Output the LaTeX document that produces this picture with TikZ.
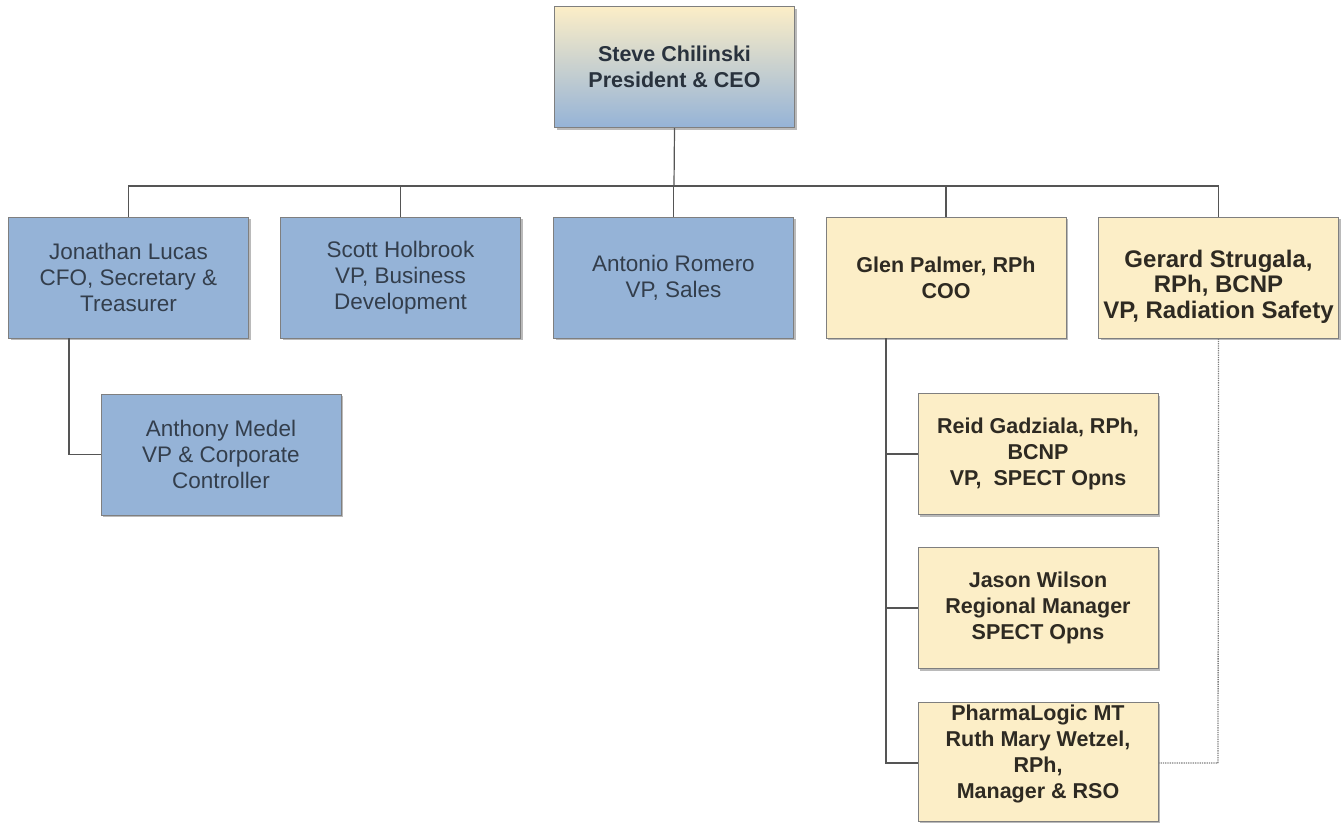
\documentclass[tikz,border=0pt]{standalone}
\usepackage{fontspec}
\setmainfont{Liberation Sans}
\usetikzlibrary{shadows}
\definecolor{boxblue}{HTML}{95B3D7}
\definecolor{boxcream}{HTML}{FCEEC7}
\definecolor{ceomid}{HTML}{D6D9D6}
\definecolor{edgegray}{HTML}{7F7F7F}
\definecolor{txtblue}{HTML}{333E4C}
\definecolor{txtcream}{HTML}{2E2A22}
\definecolor{linegray}{HTML}{555555}
\newcommand{\movedtext}[2]{\raisebox{#1}[\height][\depth]{\begin{tabular}{@{}c@{}}#2\end{tabular}}}
\tikzset{
  orgbox/.style={draw=edgegray, line width=1pt, minimum width=240pt, minimum height=121pt,
    align=center, inner sep=2pt, font=\fontsize{22.5}{26}\selectfont,
    drop shadow={shadow xshift=2pt, shadow yshift=-2pt, fill=black!45, opacity=0.6}},
  bluebox/.style={orgbox, fill=boxblue, text=txtblue},
  creambox/.style={orgbox, fill=boxcream, text=txtcream, font=\fontsize{21.5}{26}\selectfont\bfseries},
  bigcream/.style={creambox, font=\fontsize{24}{25.5}\selectfont\bfseries},
  ceobox/.style={orgbox, top color=boxcream, middle color=ceomid, bottom color=boxblue, text=txtblue!80!black, font=\fontsize{21.5}{26}\selectfont\bfseries},
  conn/.style={draw=linegray, line width=1.2pt},
  dotconn/.style={draw=edgegray, line width=1.3pt, densely dotted},
}
\begin{document}
\begin{tikzpicture}[x=1pt,y=-1pt]
\useasboundingbox (0,0) rectangle (1343,822);
\node[ceobox] (ceo) at (674.5,67) {Steve Chilinski\\President \& CEO};
\node[bluebox] (jl) at (128.5,277.5) {Jonathan Lucas\\CFO, Secretary \&\\Treasurer};
\node[bluebox] (sh) at (400.5,277.5) {Scott Holbrook\\VP, Business\\Development};
\node[bluebox] (ar) at (673.5,277.5) {Antonio Romero\\VP, Sales};
\node[creambox] (gp) at (946,277.5) {Glen Palmer, RPh\\COO};
\node[bigcream] (gs) at (1218.5,277.5) {\movedtext{-10pt}{Gerard Strugala,\\RPh, BCNP\\VP, Radiation Safety}};
\node[bluebox] (am) at (221,454.5) {Anthony Medel\\VP \& Corporate\\Controller};
\node[creambox] (rg) at (1038,454) {Reid Gadziala, RPh,\\BCNP\\VP,~ SPECT Opns};
\node[creambox] (jw) at (1038,608) {Jason Wilson\\Regional Manager\\SPECT Opns};
\node[creambox, minimum height=119pt] (pl) at (1038,761.5) {\movedtext{7pt}{PharmaLogic MT\\Ruth Mary Wetzel,\\RPh,\\Manager \& RSO}};
% bus
\coordinate (bus) at (674,186);
\draw[conn] (ceo.south) -- (bus);
\draw[conn] (jl.north) |- (bus) -| (gs.north);
\draw[conn] (sh.north) -- (sh.north |- bus);
\draw[conn] (ar.north) -- (ar.north |- bus);
\draw[conn] (gp.north) -- (gp.north |- bus);
% Jonathan -> Anthony
\coordinate (jlb) at (69,338);
\draw[conn] (jlb) |- (am.west);
% Glen -> reports
\coordinate (gpb) at (886,338);
\coordinate (gpe) at (886,763);
\draw[conn] (gpb) -- (gpe) -- (gpe -| pl.west);
\draw[conn] (gpb |- rg.west) -- (rg.west);
\draw[conn] (gpb |- jw.west) -- (jw.west);
% dotted Gerard -> PharmaLogic
\coordinate (gse) at (1218,763);
\draw[dotconn] (gs.south) -- (gse) -- (gse -| pl.east);
\end{tikzpicture}
\end{document}
